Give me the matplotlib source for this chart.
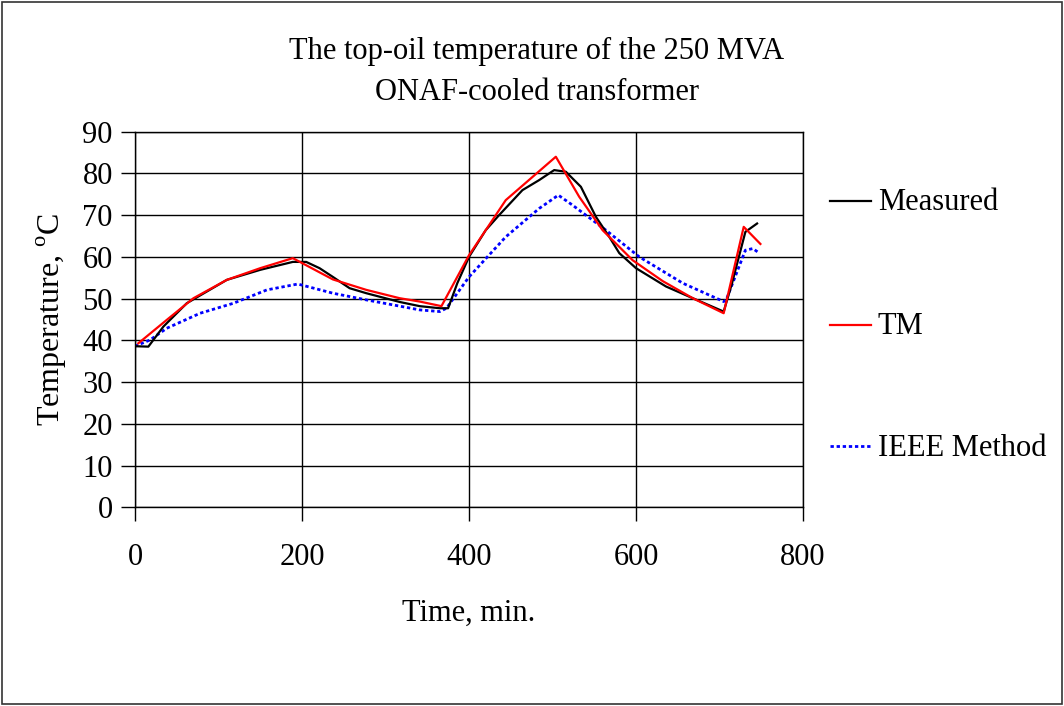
import matplotlib
matplotlib.use("Agg")
import matplotlib.pyplot as plt
from matplotlib.lines import Line2D
from matplotlib.patches import Rectangle

# Top-oil temperature readings, minutes vs deg C
time_measured = [0, 16, 34, 62, 110, 150, 189, 205, 221, 237, 257, 277, 317, 341,
                 365, 375, 386, 400, 420, 436, 464, 484, 502, 516, 534, 552, 568,
                 580, 600, 636, 668, 705, 715, 731, 745]
temp_measured = [38.6, 38.5, 43.3, 48.9, 54.5, 56.9, 58.8, 58.8, 57.3, 55.2, 52.5,
                 51.3, 49.2, 48.2, 47.7, 47.7, 53.7, 60.0, 66.4, 70.0, 76.0, 78.4,
                 80.8, 80.4, 76.8, 69.6, 64.8, 60.9, 57.3, 52.9, 50.1, 46.9, 53.7,
                 66.0, 68.0]

time_tm = [4, 38, 70, 110, 150, 189, 237, 277, 317, 341, 367, 400, 444, 504, 532,
           560, 596, 632, 668, 705, 729, 749]
temp_tm = [39.3, 44.9, 50.1, 54.5, 57.3, 59.7, 54.6, 52.1, 50.1, 49.3, 48.2, 60.4,
           73.6, 84.0, 74.4, 66.4, 59.2, 54.2, 50.1, 46.5, 67.2, 63.1]

time_ieee = [0, 18, 38, 78, 118, 158, 195, 237, 277, 317, 341, 365, 373, 400, 444,
             484, 507, 524, 564, 604, 656, 705, 708, 731, 740, 747]
temp_ieee = [38.6, 40.1, 42.9, 46.5, 48.9, 52.1, 53.5, 51.3, 49.7, 48.2, 47.3, 46.9,
             47.7, 55.2, 64.8, 71.6, 74.8, 72.4, 66.4, 60.0, 53.7, 49.3, 49.7, 61.6,
             62.0, 61.0]

series_labels = ["Measured", "TM", "IEEE Method"]

plt.rcParams["font.family"] = ["Liberation Serif", "DejaVu Serif"]
FS = 22

W, H = 1064, 706
fig = plt.figure(figsize=(W / 100, H / 100), dpi=100)
fig.patch.set_facecolor("white")

# outer chart frame
fig.add_artist(Rectangle((2 / W, 2 / H), 1 - 4 / W, 1 - 4 / H,
                         transform=fig.transFigure, fill=False,
                         edgecolor="#333333", linewidth=1.2))

ax = fig.add_axes([135 / W, 1 - 507.3 / H, (803 - 135) / W, (507.3 - 131.7) / H])

styles = [
    dict(color="black", linewidth=1.6, linestyle="-"),
    dict(color="#ff0000", linewidth=1.6, linestyle="-"),
    dict(color="#0000ff", linewidth=2.0, linestyle=(0, (1.2, 1.0))),
]
ax.plot(time_measured, temp_measured, zorder=3, **styles[0])
ax.plot(time_tm, temp_tm, zorder=4, **styles[1])
ax.plot(time_ieee, temp_ieee, zorder=2, **styles[2])

ax.set_xlim(0, 800)
ax.set_ylim(0, 90)
ax.set_xticks(range(0, 801, 200))
ax.set_yticks(range(0, 91, 10))
ax.grid(True, color="black", linewidth=1.0)
ax.set_axisbelow(True)
for s in ax.spines.values():
    s.set_color("black")
    s.set_linewidth(1.0)
ax.tick_params(axis="both", direction="out", length=10, width=1.0,
               labelsize=FS, colors="black")
ax.tick_params(axis="x", pad=16)
ax.tick_params(axis="y", pad=6)

ax.set_xlabel("Time, min.", fontsize=FS, labelpad=19)
ax.set_ylabel("Temperature, $^{\\mathregular{o}}$C", fontsize=FS + 1, labelpad=10)

fig.text(537 / W, 1 - 51 / H, "The top-oil temperature of the 250 MVA",
         ha="center", va="center", fontsize=FS)
fig.text(537 / W, 1 - 93 / H, "ONAF-cooled transformer",
         ha="center", va="center", fontsize=FS)

# legend drawn at fixed positions to the right of the plot area
legend_y = [201, 325, 446]
for lbl, st, yy in zip(series_labels, styles, legend_y):
    fig.add_artist(Line2D([830 / W, 871 / W], [1 - yy / H, 1 - yy / H],
                          transform=fig.transFigure, **st))
    fig.text(878 / W, 1 - (yy + 2) / H, lbl, ha="left", va="center", fontsize=FS)

fig.savefig("out.png", dpi=100)
